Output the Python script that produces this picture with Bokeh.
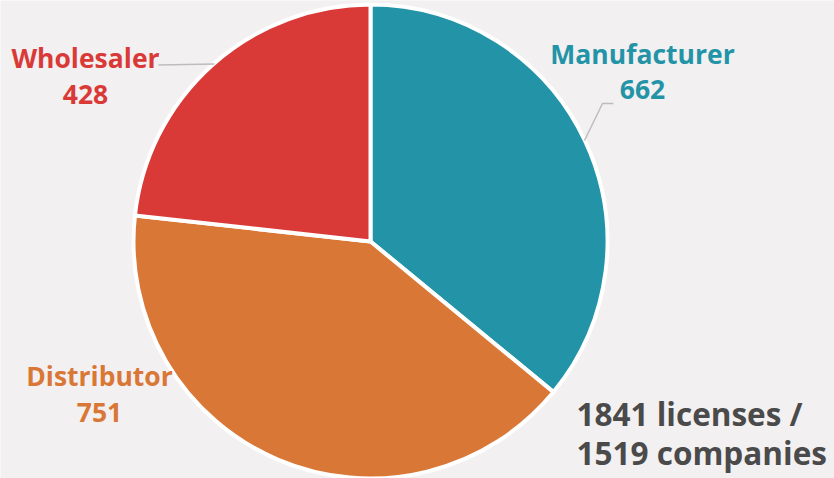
import math
from bokeh.plotting import figure
from bokeh.models import Range1d, ColumnDataSource
from bokeh.core.properties import value
from bokeh.embed import file_html
from bokeh.resources import INLINE

# ---- data ----
categories = ["Manufacturer", "Distributor", "Wholesaler"]
counts = [662, 751, 428]
colors = ["#2394A7", "#D97736", "#DA3A37"]
total_licenses = 1841
total_companies = 1519

# ---- layout (pixel coordinates, y measured from top) ----
W, H = 834, 478
CX, CY, R = 370, 241, 237
BG = "#F2F0F1"
LABEL_SIZE = 26.5
NOTE_SIZE = 31.5

def Y(py):
    return H - py

def Yb(baseline, size):
    # texts are anchored at their middle; convert a baseline to that anchor
    return Y(baseline - 0.357 * size)

total = sum(counts)
starts, ends = [], []
a = math.pi / 2
for c in counts:
    sweep = 2 * math.pi * c / total
    ends.append(a)
    starts.append(a - sweep)
    a -= sweep

p = figure(width=W, height=H, frame_width=W, frame_height=H,
           x_range=Range1d(0, W), y_range=Range1d(0, H),
           output_backend="svg", toolbar_location=None,
           x_axis_location=None, y_axis_location=None,
           min_border=0, background_fill_color=BG, border_fill_color=BG)
p.outline_line_color = None
p.grid.visible = False

src = ColumnDataSource(dict(start=starts, end=ends, color=colors, cat=categories))
p.wedge(x=CX, y=Y(CY), radius=R, start_angle="start", end_angle="end",
        fill_color="color", line_color="white", line_width=4, source=src)

# leader lines
p.line(x=[158, 214], y=[Y(64.5), Y(63.5)], line_color="#BDBDBD", line_width=1.5)
p.line(x=[613, 602, 584], y=[Y(103), Y(103), Y(140)], line_color="#BDBDBD", line_width=1.5)

# labels: (center x, name baseline, value baseline)
label_pos = {"Manufacturer": (642, 63, 98),
             "Distributor": (99, 385, 421),
             "Wholesaler": (85, 67, 103)}
for cat, cnt, col in zip(categories, counts, colors):
    x, b1, b2 = label_pos[cat]
    p.text(x=[x, x], y=[Yb(b1, LABEL_SIZE), Yb(b2, LABEL_SIZE)], text=[cat, str(cnt)],
           text_font=value("Open Sans"), text_font_style="bold",
           text_font_size=f"{LABEL_SIZE}px", text_color=col,
           text_align="center", text_baseline="middle")

p.text(x=[576, 576], y=[Yb(424, NOTE_SIZE), Yb(463, NOTE_SIZE)],
       text=[f"{total_licenses} licenses /", f"{total_companies} companies"],
       text_font=value("Open Sans"), text_font_style="bold",
       text_font_size=f"{NOTE_SIZE}px", text_color="#4A4A4A",
       text_align="left", text_baseline="middle")

open("out.html", "w").write(file_html(p, INLINE))
